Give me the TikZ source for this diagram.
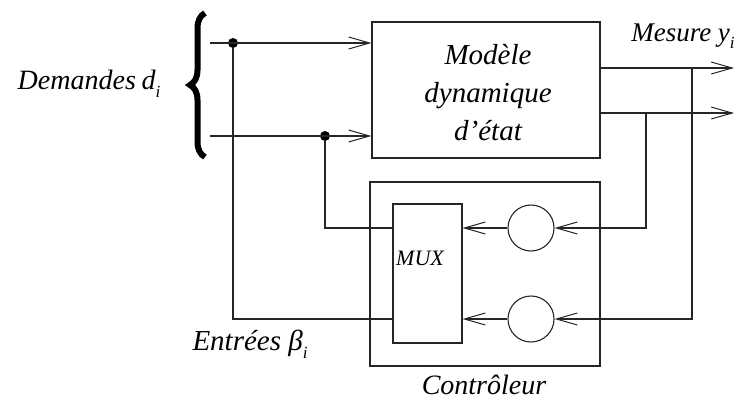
\documentclass[tikz,border=0pt]{standalone}
\usepackage{fontspec}
\setmainfont{Liberation Serif}
\usetikzlibrary{arrows.meta,decorations.pathreplacing}
\newcommand{\mysub}[1]{\raisebox{-0.28em}{\fontsize{17}{17}\selectfont #1}}
\begin{document}
\begin{tikzpicture}[x=1pt,y=-1pt,
  wire/.style={line width=1.1pt, draw=black!85},
  arr/.style={wire, -{Straight Barb[length=21pt,width=12pt,line width=1pt]}},
  box/.style={draw=black!85, line width=1.1pt, rectangle, inner sep=0pt},
  lbl/.style={font=\fontsize{28}{34}\selectfont\itshape, inner sep=0pt},
  dotn/.style={circle, fill=black, inner sep=0pt, minimum size=10pt}]
\useasboundingbox (0,0) rectangle (739,400);
% blocks
\node[box, minimum width=228pt, minimum height=136pt] (model) at (486,90) {};
\node[lbl, align=center, font=\fontsize{29}{38}\selectfont\itshape] (mtext) at (488,93) {Modèle\\dynamique\\d’état};
\node[box, minimum width=230pt, minimum height=184pt] (ctrl) at (485,274) {};
\node[box, minimum width=69pt, minimum height=139pt] (mux) at (427.5,273.5) {};
\node[lbl, font=\fontsize{22}{24}\selectfont\itshape] (muxt) at (420,258) {MUX};
\node[box, circle, minimum size=46pt] (c1) at (531,228) {};
\node[box, circle, minimum size=46pt] (c2) at (531,319) {};
% points
\coordinate (in1) at (210,43);
\coordinate (in2) at (210,136);
\node[dotn] (d1) at (233,43) {};
\node[dotn] (d2) at (325,136) {};
\coordinate (o1) at (734,68);
\coordinate (o2) at (734,113);
\coordinate (b1) at (692,68);
\coordinate (b2) at (646,113);
% brace
\draw[decorate, decoration={brace, amplitude=15pt}, line width=6pt] (205,157) -- (205,13);
% labels
\node[lbl] (dem) at (89,84) {Demandes\hspace{0.2em}d\mysub{i}};
\node[lbl, font=\fontsize{27}{30}\selectfont\itshape] (mes) at (683,36) {Mesure y\mysub{i}};
\node[lbl, font=\fontsize{29}{34}\selectfont\itshape] (ent) at (250,344) {Entrées β\mysub{i}};
\node[lbl] (ctl) at (484,385) {Contrôleur};
% connectors
\draw[arr] (in1) -- (in1 -| model.west);
\draw[arr] (in2) -- (in2 -| model.west);
\draw[arr] (o1 -| model.east) -- (o1);
\draw[arr] (o2 -| model.east) -- (o2);
\draw[arr] (b1) |- (c2.east);
\draw[arr] (b2) |- (c1.east);
\draw[arr] (c1.west) -- (c1 -| mux.east);
\draw[arr] (c2.west) -- (c2 -| mux.east);
\draw[wire] (d1) |- (c2 -| mux.west);
\draw[wire] (d2) |- (c1 -| mux.west);
\end{tikzpicture}
\end{document}
